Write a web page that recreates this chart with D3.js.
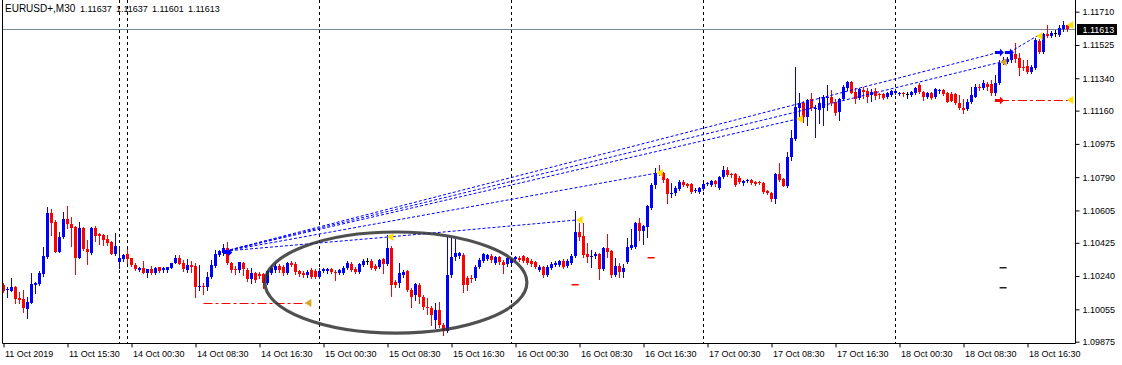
<!DOCTYPE html>
<html>
<head>
<meta charset="utf-8">
<script src="https://cdn.jsdelivr.net/npm/d3@7"></script>
<style>
  html, body { margin: 0; padding: 0; background: #fff; }
  svg { display: block; }
  text { font-family: "Liberation Sans", Arial, sans-serif; font-size: 9px; fill: #000; }
</style>
</head>
<body>
<div id="chart"></div>
<script>
// ---------------- data ----------------
const symbol = "EURUSD+,M30";

// one candle per 30 minutes: [open, high, low, close]
const ohlc = [
  [1.10190,1.10202,1.10151,1.10157],[1.10162,1.10179,1.10124,1.10168],[1.10157,1.10229,1.10157,1.10179],[1.10179,1.10185,1.10090,1.10112],
  [1.10118,1.10151,1.10090,1.10107],[1.10112,1.10162,1.10040,1.10062],[1.10057,1.10124,1.10007,1.10096],[1.10090,1.10257,1.10090,1.10196],
  [1.10190,1.10207,1.10146,1.10202],[1.10196,1.10268,1.10190,1.10257],[1.10252,1.10402,1.10240,1.10352],[1.10346,1.10624,1.10341,1.10591],
  [1.10591,1.10613,1.10468,1.10535],[1.10541,1.10552,1.10374,1.10374],[1.10374,1.10485,1.10374,1.10457],[1.10457,1.10596,1.10452,1.10557],
  [1.10557,1.10630,1.10507,1.10529],[1.10529,1.10568,1.10407,1.10507],[1.10513,1.10518,1.10252,1.10341],[1.10341,1.10541,1.10341,1.10507],
  [1.10507,1.10513,1.10385,1.10391],[1.10391,1.10441,1.10307,1.10374],[1.10368,1.10513,1.10363,1.10507],[1.10507,1.10518,1.10435,1.10463],
  [1.10474,1.10479,1.10418,1.10463],[1.10468,1.10474,1.10413,1.10441],[1.10446,1.10468,1.10413,1.10424],[1.10429,1.10435,1.10363,1.10363],
  [1.10363,1.10479,1.10357,1.10407],[1.10318,1.10396,1.10285,1.10341],[1.10335,1.10363,1.10324,1.10357],[1.10363,1.10391,1.10313,1.10335],
  [1.10341,1.10341,1.10296,1.10302],[1.10302,1.10313,1.10274,1.10279],[1.10274,1.10291,1.10268,1.10285],[1.10285,1.10324,1.10257,1.10257],
  [1.10257,1.10279,1.10235,1.10279],[1.10279,1.10296,1.10252,1.10257],[1.10257,1.10291,1.10252,1.10285],[1.10291,1.10291,1.10263,1.10268],
  [1.10274,1.10291,1.10263,1.10285],[1.10274,1.10291,1.10263,1.10291],[1.10285,1.10313,1.10285,1.10313],[1.10313,1.10357,1.10313,1.10341],
  [1.10341,1.10357,1.10307,1.10307],[1.10313,1.10329,1.10268,1.10279],[1.10274,1.10335,1.10263,1.10302],[1.10302,1.10324,1.10263,1.10291],
  [1.10296,1.10313,1.10124,1.10179],[1.10179,1.10302,1.10162,1.10185],[1.10185,1.10202,1.10140,1.10179],[1.10179,1.10263,1.10162,1.10235],
  [1.10235,1.10329,1.10229,1.10302],[1.10296,1.10385,1.10291,1.10363],[1.10357,1.10385,1.10352,1.10379],[1.10368,1.10418,1.10357,1.10396],
  [1.10396,1.10429,1.10307,1.10313],[1.10313,1.10318,1.10263,1.10274],[1.10279,1.10296,1.10252,1.10274],[1.10274,1.10318,1.10263,1.10318],
  [1.10313,1.10318,1.10246,1.10279],[1.10274,1.10285,1.10213,1.10224],[1.10224,1.10285,1.10202,1.10257],[1.10257,1.10263,1.10207,1.10218],
  [1.10252,1.10263,1.10229,1.10240],[1.10252,1.10257,1.10174,1.10202],[1.10202,1.10274,1.10196,1.10268],[1.10257,1.10296,1.10252,1.10285],
  [1.10274,1.10313,1.10263,1.10296],[1.10296,1.10307,1.10263,1.10274],[1.10291,1.10302,1.10246,1.10257],[1.10257,1.10318,1.10252,1.10313],
  [1.10313,1.10324,1.10296,1.10302],[1.10307,1.10318,1.10252,1.10263],[1.10268,1.10274,1.10240,1.10252],[1.10257,1.10268,1.10235,1.10246],
  [1.10246,1.10274,1.10235,1.10263],[1.10274,1.10285,1.10229,1.10235],[1.10268,1.10279,1.10229,1.10235],[1.10235,1.10285,1.10229,1.10268],
  [1.10268,1.10285,1.10263,1.10279],[1.10268,1.10285,1.10257,1.10279],[1.10279,1.10285,1.10257,1.10263],[1.10263,1.10274,1.10218,1.10257],
  [1.10257,1.10279,1.10252,1.10274],[1.10257,1.10296,1.10252,1.10285],[1.10285,1.10324,1.10279,1.10313],[1.10307,1.10318,1.10268,1.10274],
  [1.10279,1.10291,1.10257,1.10263],[1.10263,1.10313,1.10257,1.10307],[1.10302,1.10335,1.10296,1.10324],[1.10324,1.10341,1.10307,1.10324],
  [1.10324,1.10335,1.10279,1.10285],[1.10296,1.10307,1.10274,1.10279],[1.10291,1.10335,1.10285,1.10329],[1.10335,1.10341,1.10257,1.10307],
  [1.10307,1.10468,1.10302,1.10396],[1.10396,1.10407,1.10129,1.10190],[1.10207,1.10218,1.10179,1.10190],[1.10202,1.10313,1.10179,1.10257],
  [1.10246,1.10274,1.10235,1.10263],[1.10268,1.10274,1.10157,1.10162],[1.10162,1.10174,1.10068,1.10124],[1.10135,1.10202,1.10107,1.10196],
  [1.10190,1.10202,1.10090,1.10124],[1.10124,1.10135,1.10057,1.10068],[1.10068,1.10118,1.10029,1.10062],[1.10062,1.10074,1.09968,1.10023],
  [1.09996,1.10090,1.09951,1.10051],[1.10051,1.10096,1.09957,1.09968],[1.09968,1.09979,1.09912,1.09935],[1.09935,1.10457,1.09929,1.10246],
  [1.10246,1.10452,1.10235,1.10346],[1.10346,1.10446,1.10329,1.10368],[1.10352,1.10374,1.10341,1.10368],[1.10357,1.10368,1.10151,1.10190],
  [1.10229,1.10240,1.10162,1.10190],[1.10229,1.10246,1.10207,1.10224],[1.10229,1.10302,1.10218,1.10291],[1.10291,1.10341,1.10285,1.10329],
  [1.10324,1.10368,1.10318,1.10363],[1.10335,1.10363,1.10329,1.10357],[1.10352,1.10363,1.10318,1.10329],[1.10313,1.10352,1.10307,1.10346],
  [1.10346,1.10352,1.10307,1.10318],[1.10318,1.10329,1.10257,1.10302],[1.10307,1.10346,1.10296,1.10341],[1.10313,1.10341,1.10307,1.10335],
  [1.10335,1.10352,1.10329,1.10346],[1.10341,1.10352,1.10324,1.10329],[1.10352,1.10357,1.10318,1.10324],[1.10341,1.10346,1.10307,1.10313],
  [1.10324,1.10335,1.10296,1.10307],[1.10318,1.10324,1.10285,1.10291],[1.10274,1.10302,1.10268,1.10291],[1.10291,1.10296,1.10235,1.10246],
  [1.10246,1.10302,1.10240,1.10291],[1.10285,1.10318,1.10279,1.10307],[1.10302,1.10324,1.10296,1.10313],[1.10302,1.10329,1.10296,1.10324],
  [1.10324,1.10335,1.10285,1.10291],[1.10296,1.10335,1.10291,1.10324],[1.10313,1.10363,1.10307,1.10352],[1.10352,1.10602,1.10346,1.10485],
  [1.10485,1.10535,1.10441,1.10457],[1.10463,1.10535,1.10346,1.10357],[1.10363,1.10424,1.10318,1.10346],[1.10346,1.10385,1.10291,1.10352],
  [1.10352,1.10374,1.10341,1.10363],[1.10363,1.10368,1.10224,1.10279],[1.10279,1.10402,1.10274,1.10396],[1.10396,1.10474,1.10346,1.10374],
  [1.10379,1.10385,1.10235,1.10246],[1.10246,1.10341,1.10240,1.10296],[1.10296,1.10313,1.10235,1.10263],[1.10263,1.10307,1.10235,1.10285],
  [1.10318,1.10452,1.10313,1.10402],[1.10396,1.10502,1.10391,1.10413],[1.10402,1.10541,1.10396,1.10535],[1.10535,1.10563,1.10441,1.10491],
  [1.10491,1.10524,1.10418,1.10518],[1.10513,1.10635,1.10457,1.10630],[1.10618,1.10758,1.10613,1.10747],[1.10747,1.10841,1.10730,1.10813],
  [1.10819,1.10858,1.10802,1.10813],[1.10813,1.10819,1.10763,1.10774],[1.10780,1.10785,1.10646,1.10696],[1.10696,1.10758,1.10680,1.10702],
  [1.10702,1.10741,1.10691,1.10730],[1.10724,1.10774,1.10719,1.10763],[1.10763,1.10774,1.10741,1.10747],[1.10752,1.10758,1.10735,1.10741],
  [1.10752,1.10758,1.10702,1.10708],[1.10713,1.10730,1.10708,1.10719],[1.10708,1.10735,1.10702,1.10730],[1.10724,1.10758,1.10719,1.10752],
  [1.10752,1.10763,1.10747,1.10758],[1.10747,1.10774,1.10741,1.10769],[1.10769,1.10774,1.10741,1.10752],[1.10730,1.10797,1.10724,1.10791],
  [1.10791,1.10852,1.10785,1.10830],[1.10830,1.10847,1.10797,1.10802],[1.10808,1.10813,1.10791,1.10802],[1.10808,1.10813,1.10741,1.10747],
  [1.10785,1.10797,1.10758,1.10763],[1.10758,1.10774,1.10747,1.10769],[1.10769,1.10780,1.10763,1.10774],[1.10774,1.10780,1.10752,1.10758],
  [1.10763,1.10769,1.10747,1.10752],[1.10763,1.10769,1.10752,1.10758],[1.10758,1.10763,1.10702,1.10708],[1.10713,1.10719,1.10696,1.10702],
  [1.10702,1.10708,1.10657,1.10669],[1.10669,1.10813,1.10646,1.10808],[1.10808,1.10869,1.10769,1.10774],[1.10780,1.10785,1.10741,1.10741],
  [1.10741,1.10930,1.10735,1.10902],[1.10902,1.11052,1.10885,1.11008],[1.11002,1.11402,1.10997,1.11180],[1.11175,1.11258,1.11108,1.11202],
  [1.11202,1.11213,1.11097,1.11125],[1.11125,1.11225,1.11080,1.11219],[1.11225,1.11258,1.11163,1.11175],[1.11169,1.11191,1.11013,1.11175],
  [1.11163,1.11236,1.11091,1.11202],[1.11175,1.11247,1.11080,1.11236],[1.11230,1.11302,1.11163,1.11236],[1.11236,1.11275,1.11191,1.11202],
  [1.11208,1.11225,1.11136,1.11147],[1.11152,1.11230,1.11108,1.11225],[1.11225,1.11302,1.11219,1.11291],[1.11286,1.11325,1.11275,1.11319],
  [1.11319,1.11325,1.11258,1.11258],[1.11263,1.11286,1.11202,1.11225],[1.11230,1.11286,1.11225,1.11280],[1.11275,1.11291,1.11230,1.11263],
  [1.11269,1.11286,1.11208,1.11236],[1.11247,1.11280,1.11213,1.11263],[1.11269,1.11286,1.11225,1.11241],[1.11252,1.11258,1.11230,1.11247],
  [1.11252,1.11258,1.11225,1.11230],[1.11236,1.11263,1.11230,1.11258],[1.11247,1.11275,1.11241,1.11269],[1.11258,1.11280,1.11252,1.11269],
  [1.11252,1.11263,1.11247,1.11258],[1.11258,1.11263,1.11241,1.11252],[1.11252,1.11263,1.11230,1.11252],[1.11247,1.11269,1.11241,1.11263],
  [1.11258,1.11291,1.11252,1.11286],[1.11302,1.11313,1.11258,1.11263],[1.11263,1.11269,1.11219,1.11236],[1.11236,1.11263,1.11230,1.11258],
  [1.11258,1.11263,1.11225,1.11230],[1.11236,1.11286,1.11230,1.11280],[1.11269,1.11280,1.11258,1.11275],[1.11275,1.11280,1.11247,1.11252],
  [1.11258,1.11263,1.11208,1.11208],[1.11252,1.11263,1.11213,1.11213],[1.11252,1.11258,1.11197,1.11202],[1.11202,1.11247,1.11169,1.11175],
  [1.11175,1.11225,1.11147,1.11163],[1.11169,1.11225,1.11163,1.11208],[1.11208,1.11291,1.11202,1.11247],[1.11236,1.11308,1.11236,1.11291],
  [1.11291,1.11308,1.11275,1.11286],[1.11286,1.11330,1.11280,1.11313],[1.11308,1.11319,1.11275,1.11291],[1.11308,1.11330,1.11247,1.11258],
  [1.11258,1.11358,1.11247,1.11313],[1.11313,1.11441,1.11308,1.11425],[1.11425,1.11458,1.11419,1.11441],[1.11430,1.11458,1.11425,1.11447],
  [1.11441,1.11486,1.11430,1.11475],[1.11475,1.11536,1.11430,1.11447],[1.11453,1.11480,1.11358,1.11397],[1.11402,1.11441,1.11386,1.11397],
  [1.11408,1.11441,1.11369,1.11375],[1.11375,1.11414,1.11369,1.11402],[1.11397,1.11564,1.11391,1.11553],[1.11547,1.11558,1.11480,1.11486],
  [1.11486,1.11592,1.11480,1.11586],[1.11586,1.11636,1.11569,1.11575],[1.11575,1.11603,1.11569,1.11592],[1.11592,1.11608,1.11575,1.11592],
  [1.11580,1.11636,1.11575,1.11619],[1.11614,1.11658,1.11603,1.11637],[1.11637,1.11637,1.11601,1.11613]
];

// price scale labels (right axis)
const priceTicks = [1.09875, 1.10055, 1.10240, 1.10425, 1.10605, 1.10790, 1.10975, 1.11160, 1.11340, 1.11525, 1.11710];

// time scale: bar index of each label and its text
const timeTickBars = [0, 16, 32, 48, 64, 80, 96, 112, 128, 144, 160, 176, 192, 208, 224, 240, 256];
const timeLabels = ["11 Oct 2019", "11 Oct 15:30", "14 Oct 00:30", "14 Oct 08:30", "14 Oct 16:30",
  "15 Oct 00:30", "15 Oct 08:30", "15 Oct 16:30", "16 Oct 00:30", "16 Oct 08:30", "16 Oct 16:30",
  "17 Oct 00:30", "17 Oct 08:30", "17 Oct 16:30", "18 Oct 00:30", "18 Oct 08:30", "18 Oct 16:30"];

// period separators (first bar of each day)
const daySeparatorBars = [29, 31, 79, 127, 175, 223];

// trade history lines: [bar from, price from, bar to, price to]
const tradeLines = [
  [55.4, 1.10379, 249.1, 1.11486],
  [55.4, 1.10379, 249.4, 1.11430],
  [55.4, 1.10379, 198.4, 1.11113],
  [55.4, 1.10379, 163.4, 1.10813],
  [55.4, 1.10379, 96.1, 1.10457],
  [96.1, 1.10457, 143.4, 1.10552],
  [251.6, 1.11486, 258.4, 1.11575]
];
// close markers [bar, price, kind]
const closeMarks = [
  [96.1, 1.10457, "tp"], [143.4, 1.10552, "tp"], [163.4, 1.10813, "tp"], [198.4, 1.11113, "tp"],
  [258.4, 1.11575, "tp"], [249.4, 1.11430, "sl"], [75.6, 1.10090, "sl"], [266.1, 1.11219, "tp"], [266.1, 1.11636, "tp"]
];
// open markers [bar, price, side]
const openMarks = [[56.2, 1.10374, "buy"], [249.1, 1.11486, "buy"], [251.6, 1.11486, "buy"], [249.1, 1.11219, "sell"]];
// sell order lines [bar from, bar to, price]
const sellLines = [[50.0, 75.6, 1.10090], [249.1, 266.1, 1.11219]];
// small level dashes [bar, price, kind]
const levelDashes = [[142.9, 1.10196, "r"], [161.9, 1.10346, "r"], [249.9, 1.10291, "k"], [249.9, 1.10179, "k"]];
// hand drawn ellipse: centre bar, centre price, half width in bars, half height in price
const ellipseNote = [98.1, 1.10204, 32.75, 0.00281];

// ---------------- drawing ----------------
const W = 1122, H = 365;
const plotRight = 1075.5, plotBottom = 343.5;

const svg = d3.select("#chart").append("svg").attr("width", W).attr("height", H);

const defs = svg.append("defs");
defs.append("clipPath").attr("id", "plotClip")
  .append("rect").attr("x", 3).attr("y", 0).attr("width", plotRight - 3).attr("height", plotBottom);
defs.append("filter").attr("id", "pencil").attr("x", "-5%").attr("y", "-10%").attr("width", "110%").attr("height", "120%")
  .append("feGaussianBlur").attr("stdDeviation", 0.75);

const x = d3.scaleLinear().domain([0, ohlc.length - 1]).range([3.5, 3.5 + 4 * (ohlc.length - 1)]);
const y = d3.scaleLinear().domain([priceTicks[0], priceTicks[priceTicks.length - 1]]).range([341.7, 11.7]);

const plot = svg.append("g").attr("clip-path", "url(#plotClip)");

// day separators
plot.selectAll(".sep").data(daySeparatorBars).join("line")
  .attr("class", "sep")
  .attr("x1", d => x(d)).attr("x2", d => x(d))
  .attr("y1", 0).attr("y2", plotBottom)
  .attr("stroke", "#000").attr("stroke-dasharray", "3,3");

// bid line
const last = ohlc[ohlc.length - 1];
plot.append("line")
  .attr("x1", 3).attr("x2", plotRight)
  .attr("y1", Math.round(y(last[3])) + 0.5).attr("y2", Math.round(y(last[3])) + 0.5)
  .attr("stroke", "#778899");

// candles
const colour = d => d[3] > d[0] ? "#0000ff" : (d[3] < d[0] ? "#ff0000" : "#000000");
const candles = plot.selectAll(".candle").data(ohlc).join("g").attr("class", "candle");

candles.append("rect")
  .attr("x", (d, i) => x(i) - 0.5)
  .attr("width", 1)
  .attr("y", d => Math.round(y(d[1])))
  .attr("height", d => Math.max(1, Math.round(y(d[2])) - Math.round(y(d[1])) + 1))
  .attr("fill", colour);

candles.append("rect")
  .attr("x", (d, i) => x(i) - 1.5)
  .attr("width", 3)
  .attr("y", d => Math.round(y(Math.max(d[0], d[3]))))
  .attr("height", d => Math.max(1, Math.round(y(Math.min(d[0], d[3]))) - Math.round(y(Math.max(d[0], d[3])))))
  .attr("fill", colour);

// trade lines
plot.selectAll(".trade").data(tradeLines).join("line")
  .attr("class", "trade")
  .attr("x1", d => x(d[0])).attr("y1", d => y(d[1]))
  .attr("x2", d => x(d[2])).attr("y2", d => y(d[3]))
  .attr("stroke", "#0000ff").attr("stroke-dasharray", "3,2");

plot.selectAll(".sell").data(sellLines).join("line")
  .attr("class", "sell")
  .attr("x1", d => x(d[0])).attr("x2", d => x(d[1]))
  .attr("y1", d => Math.round(y(d[2])) + 0.5).attr("y2", d => Math.round(y(d[2])) + 0.5)
  .attr("stroke", "#ff0000").attr("stroke-dasharray", "9,3,3,3");

plot.selectAll(".lvl").data(levelDashes).join("rect")
  .attr("class", "lvl")
  .attr("x", d => x(d[0]) - 3.5).attr("width", 7)
  .attr("y", d => Math.round(y(d[1]))).attr("height", 1.5)
  .attr("fill", d => d[2] === "r" ? "#ff0000" : "#222");

// close markers: left pointing triangles
plot.selectAll(".close").data(closeMarks).join("path")
  .attr("class", "close")
  .attr("d", d => {
    const px = x(d[0]), py = y(d[1]);
    return `M${px - 1},${py}L${px + 5.5},${py - 4}L${px + 5.5},${py + 4}Z`;
  })
  .attr("fill", d => d[2] === "tp" ? "#ffe000" : "#daa520");

// open markers: small right arrows
plot.selectAll(".open").data(openMarks).join("path")
  .attr("class", "open")
  .attr("d", d => {
    const px = x(d[0]), py = Math.round(y(d[1]));
    return `M${px - 5},${py - 1}H${px}V${py - 3.5}L${px + 4},${py + 0.5}L${px},${py + 4.5}V${py + 2}H${px - 5}Z`;
  })
  .attr("fill", d => d[2] === "buy" ? "#0000ff" : "#ff0000");

// hand drawn ellipse
const [eb, ep, ebw, eph] = ellipseNote;
svg.append("ellipse")
  .attr("cx", x(eb)).attr("cy", y(ep))
  .attr("rx", x(eb + ebw) - x(eb)).attr("ry", y(ep - eph) - y(ep))
  .attr("fill", "none").attr("stroke", "#333").attr("stroke-width", 3.2)
  .attr("opacity", 0.85).attr("filter", "url(#pencil)");

// frame
svg.append("line").attr("x1", 2.5).attr("x2", 2.5).attr("y1", 0).attr("y2", plotBottom).attr("stroke", "#000");
svg.append("line").attr("x1", plotRight).attr("x2", plotRight).attr("y1", 0).attr("y2", plotBottom).attr("stroke", "#000");
svg.append("line").attr("x1", 2.5).attr("x2", plotRight).attr("y1", plotBottom).attr("y2", plotBottom).attr("stroke", "#000");

// price axis
svg.append("g")
  .attr("transform", `translate(${plotRight},0)`)
  .call(d3.axisRight(y).tickValues(priceTicks).tickFormat(d3.format(".5f")).tickSize(4).tickSizeOuter(0).tickPadding(3))
  .call(g => g.select(".domain").remove());

// time axis
svg.append("g")
  .attr("transform", `translate(0,${plotBottom})`)
  .call(d3.axisBottom(x).tickValues(timeTickBars).tickFormat((d, i) => timeLabels[i]).tickSize(4).tickSizeOuter(0))
  .call(g => g.select(".domain").remove())
  .call(g => g.selectAll(".tick line").attr("stroke", "#000"))
  .call(g => g.selectAll(".tick text").attr("text-anchor", "start").attr("x", 1).attr("y", 7));

// current price box
const fmt = d3.format(".5f");
const yl = Math.round(y(last[3])) + 0.5;
svg.append("rect").attr("x", 1077).attr("y", yl - 5.5).attr("width", 40).attr("height", 11).attr("fill", "#000");
svg.append("text").attr("x", 1082.5).attr("y", yl).attr("dy", "0.34em").style("fill", "#fff").text(fmt(last[3]));

// header: symbol then open, high, low, close of the last bar
const header = svg.append("text").attr("y", 11.5);
header.append("tspan").attr("x", 5).style("font-size", "10px").text(symbol);
header.selectAll(".hv").data(last).join("tspan")
  .attr("class", "hv")
  .attr("x", (d, i) => 80 + i * 36)
  .text(d => fmt(d));
</script>
</body>
</html>
